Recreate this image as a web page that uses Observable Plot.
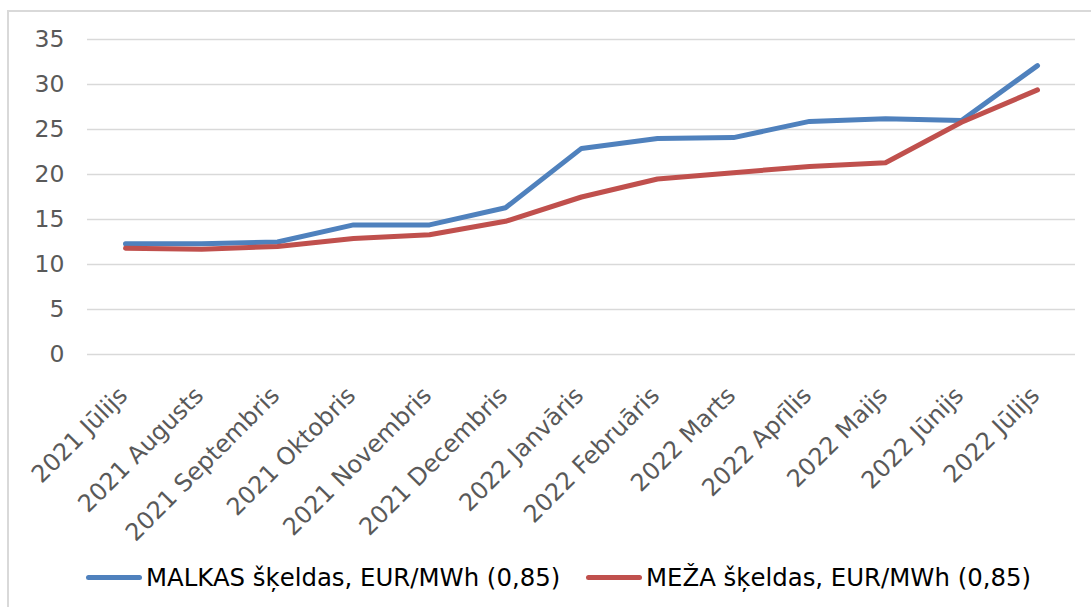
<!DOCTYPE html>
<html>
<head>
<meta charset="utf-8">
<script src="https://cdn.jsdelivr.net/npm/d3@7"></script>
<script src="https://cdn.jsdelivr.net/npm/@observablehq/plot@0.6"></script>
<style>
  body { margin: 0; background: #fff; font-family: "DejaVu Sans", sans-serif; }
  #wrap { position: relative; width: 1091px; height: 607px; overflow: hidden; }
  #frame { position: absolute; left: 7px; top: 10px; width: 1200px; height: 700px; border: 2px solid #d9d9d9; box-sizing: border-box; pointer-events: none; }
  #chart { position: absolute; left: 0; top: 0; }
  #legend { position: absolute; left: 0; top: 555px; width: 1091px; height: 44px; font-size: 24.4px; color: #000; }
  .item { display: flex; align-items: center; position: absolute; top: 0; height: 44px; white-space: nowrap; }
  .swatch { width: 56px; height: 5px; border-radius: 3px; margin-right: 4px; }
</style>
</head>
<body>
<div id="wrap">
  <div id="chart"></div>
  <div id="legend"></div>
  <div id="frame"></div>
</div>
<script>
const months = ["2021 Jūlijs", "2021 Augusts", "2021 Septembris", "2021 Oktobris", "2021 Novembris", "2021 Decembris", "2022 Janvāris", "2022 Februāris", "2022 Marts", "2022 Aprīlis", "2022 Maijs", "2022 Jūnijs", "2022 Jūlijs"];
const malkas = [12.3, 12.3, 12.5, 14.4, 14.4, 16.3, 22.9, 24.0, 24.1, 25.9, 26.2, 26.0, 32.1];
const meza = [11.8, 11.7, 12.0, 12.9, 13.3, 14.8, 17.5, 19.5, 20.2, 20.9, 21.3, 25.8, 29.4];
const seriesNames = ["MALKAS šķeldas, EUR/MWh (0,85)", "MEŽA šķeldas, EUR/MWh (0,85)"];
const seriesColors = ["#4F81BD", "#C0504D"];
const yTicks = [0, 5, 10, 15, 20, 25, 30, 35];

const malkasData = months.map((m, i) => ({month: m, value: malkas[i], series: seriesNames[0]}));
const mezaData = months.map((m, i) => ({month: m, value: meza[i], series: seriesNames[1]}));

const chart = Plot.plot({
  width: 1091,
  height: 555,
  marginLeft: 87,
  marginRight: 16,
  marginTop: 39,
  marginBottom: 201,
  style: {fontFamily: "DejaVu Sans", fontSize: "24px", color: "#595959", background: "transparent"},
  x: {type: "point", domain: months, padding: 0.5, label: null},
  y: {domain: [0, 35], label: null},
  color: {domain: seriesNames, range: seriesColors},
  marks: [
    Plot.gridY(yTicks, {stroke: "#d9d9d9", strokeOpacity: 1, strokeWidth: 1.5}),
    Plot.axisY(yTicks, {tickSize: 0, tickPadding: 23, fill: "#595959", fontSize: 23.5, label: null}),
    Plot.axisX({tickSize: 0, tickRotate: -45, tickPadding: 10, dy: 27, dx: -2, fill: "#595959", fontSize: 24, label: null}),
    Plot.line(malkasData, {x: "month", y: "value", stroke: "series", strokeWidth: 5, strokeLinecap: "round", strokeLinejoin: "round"}),
    Plot.line(mezaData, {x: "month", y: "value", stroke: "series", strokeWidth: 5, strokeLinecap: "round", strokeLinejoin: "round"})
  ]
});
document.getElementById("chart").appendChild(chart);

const legend = document.getElementById("legend");
const legendX = [86, 586];
seriesNames.forEach((name, i) => {
  const item = document.createElement("div");
  item.className = "item";
  item.style.left = legendX[i] + "px";
  const sw = document.createElement("div");
  sw.className = "swatch";
  sw.style.background = seriesColors[i];
  const label = document.createElement("span");
  label.textContent = name;
  item.appendChild(sw);
  item.appendChild(label);
  legend.appendChild(item);
});
</script>
</body>
</html>
